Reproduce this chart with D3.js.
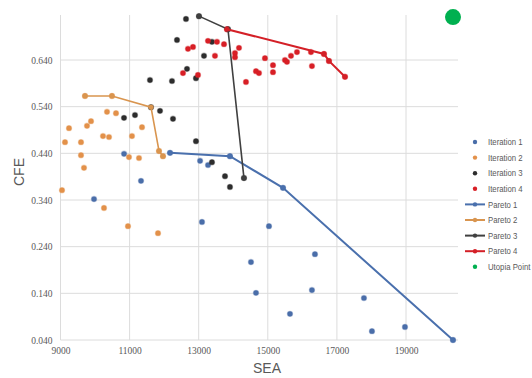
<!DOCTYPE html>
<html><head><meta charset="utf-8">
<script src="https://cdn.jsdelivr.net/npm/d3@7"></script>
<style>html,body{margin:0;padding:0;background:#fff;}svg{display:block;}</style>
</head><body>
<svg id="c" width="532" height="378"></svg>
<script>
const xTicks = [9000, 11000, 13000, 15000, 17000, 19000];
const yTicks = [0.04, 0.14, 0.24, 0.34, 0.44, 0.54, 0.64];
const seriesNames = ["Iteration 1","Iteration 2","Iteration 3","Iteration 4","Pareto 1","Pareto 2","Pareto 3","Pareto 4","Utopia Point"];

const iter1 = [[9970,0.342],[10840,0.439],[11330,0.381],[12170,0.441],[13040,0.424],[13270,0.415],[13905,0.434],[13095,0.293],[15034,0.284],[14513,0.207],[14658,0.141],[15440,0.366],[16365,0.224],[16278,0.147],[15642,0.096],[17783,0.130],[18015,0.059],[18970,0.068],[20360,0.040]];
const iter2 = [[9709,0.563],[10490,0.563],[10346,0.529],[10606,0.526],[9883,0.509],[9767,0.499],[9246,0.494],[11359,0.496],[10230,0.477],[10404,0.475],[11069,0.477],[9130,0.464],[9593,0.464],[9593,0.436],[10982,0.432],[11272,0.430],[11851,0.445],[11966,0.434],[9680,0.409],[9043,0.361],[10259,0.323],[10953,0.284],[11822,0.269]];
const iter3 = [[12632,0.728],[13008,0.734],[12372,0.683],[13384,0.679],[13153,0.649],[12661,0.621],[12921,0.601],[11590,0.597],[12227,0.595],[11619,0.539],[11880,0.531],[11156,0.522],[10838,0.516],[12256,0.514],[12921,0.466],[13384,0.421],[13761,0.391],[13905,0.368],[14310,0.387],[13847,0.706]];
const iter4 = [[13818,0.706],[13269,0.681],[13529,0.679],[13732,0.674],[12835,0.668],[12690,0.664],[14166,0.666],[14050,0.655],[14050,0.646],[13471,0.649],[14918,0.644],[12545,0.612],[12979,0.608],[14658,0.616],[14745,0.612],[14368,0.593],[15150,0.629],[15150,0.614],[15497,0.640],[15555,0.636],[15671,0.649],[15844,0.657],[16249,0.657],[16278,0.627],[16626,0.653],[16770,0.638],[17234,0.604]];
const pareto1 = [[12170,0.441],[13905,0.434],[15440,0.366],[20360,0.040]];
const pareto2 = [[9709,0.563],[10490,0.563],[11619,0.539],[11851,0.445],[11966,0.434]];
const pareto3 = [[13008,0.734],[13847,0.706],[14310,0.387]];
const pareto4 = [[13818,0.706],[16626,0.653],[16770,0.638],[17234,0.604]];
const utopia = [[20360,0.732]];

const colors = {it1:"#4a6ea9", it2:"#e3914a", it3:"#2d2d2d", it4:"#d81f26",
  p1:"#4a70ad", p2:"#d9954f", p3:"#404040", p4:"#d42027", ut:"#00b050"};

const svg = d3.select("#c");
const x = d3.scaleLinear().domain([9000,19000]).range([60.5,406]);
const y = d3.scaleLinear().domain([0.04,0.64]).range([340,60]);
const xMax = x.invert(458), yMax = y.invert(15);

const g = svg.append("g");
g.selectAll(".hg").data(yTicks).join("line")
  .attr("x1", x(9000)).attr("x2", x(xMax))
  .attr("y1", d=>y(d)).attr("y2", d=>y(d))
  .attr("stroke","#dcdcdc").attr("stroke-width",1);
g.selectAll(".vg").data(xTicks).join("line")
  .attr("x1", d=>x(d)).attr("x2", d=>x(d))
  .attr("y1", y(yMax)).attr("y2", y(0.04))
  .attr("stroke","#dcdcdc").attr("stroke-width",1);

const xAxis = d3.axisBottom(x).tickValues(xTicks).tickFormat(d3.format("d")).tickSize(0).tickPadding(7);
const yAxis = d3.axisLeft(y).tickValues(yTicks).tickFormat(d3.format(".3f")).tickSize(0).tickPadding(8);
const gx = svg.append("g").attr("transform",`translate(0,${y(0.04)})`).call(xAxis);
const gy = svg.append("g").attr("transform",`translate(${x(9000)},0)`).call(yAxis);
[gx,gy].forEach(a=>{
  a.select(".domain").remove();
  a.selectAll("text").attr("fill","#595959").style("font-family","Liberation Serif, serif").style("font-size","9.5px");
});

svg.append("text").attr("x",267).attr("y",373).attr("text-anchor","middle")
  .attr("fill","#595959").style("font-family","Liberation Sans, sans-serif").style("font-size","14px").text("SEA");
svg.append("text").attr("transform","translate(24,172) rotate(-90)").attr("text-anchor","middle")
  .attr("fill","#595959").style("font-family","Liberation Sans, sans-serif").style("font-size","14px").text("CFE");

function dots(data, color, r){
  svg.append("g").selectAll("circle").data(data).join("circle")
    .attr("cx", d=>x(d[0])).attr("cy", d=>y(d[1])).attr("r", r||2.6)
    .attr("fill", color).attr("stroke", color).attr("stroke-opacity",0.35).attr("stroke-width",1.2);
}
function line(data, color, w){
  svg.append("path").datum(data)
    .attr("d", d3.line().x(d=>x(d[0])).y(d=>y(d[1])))
    .attr("fill","none").attr("stroke",color).attr("stroke-width",w);
  dots(data, color, 2.4);
}

dots(iter1, colors.it1);
dots(iter2, colors.it2);
dots(iter3, colors.it3);
dots(iter4, colors.it4);
line(pareto1, colors.p1, 2);
line(pareto2, colors.p2, 1.6);
line(pareto3, colors.p3, 1.6);
line(pareto4, colors.p4, 2);
svg.append("g").selectAll("circle").data(utopia).join("circle")
  .attr("cx", d=>x(d[0])).attr("cy", d=>y(d[1])).attr("r", 8).attr("fill", colors.ut);

const legColors = [colors.it1, colors.it2, colors.it3, colors.it4, colors.p1, colors.p2, colors.p3, colors.p4, colors.ut];
const leg = svg.append("g");
seriesNames.forEach((name,i)=>{
  const yy = 142 + i*15.6;
  const isLine = name.startsWith("Pareto");
  if (isLine) {
    leg.append("line").attr("x1",465).attr("x2",485).attr("y1",yy).attr("y2",yy)
      .attr("stroke",legColors[i]).attr("stroke-width",2);
  }
  leg.append("circle").attr("cx",475).attr("cy",yy).attr("r",2.2).attr("fill",legColors[i]);
  leg.append("text").attr("transform",`translate(488,${yy+3.2}) scale(0.82,1)`).attr("fill","#595959")
    .style("font-family","'Liberation Sans', sans-serif").style("font-size","9.5px").text(name);
});
</script>
</body></html>
